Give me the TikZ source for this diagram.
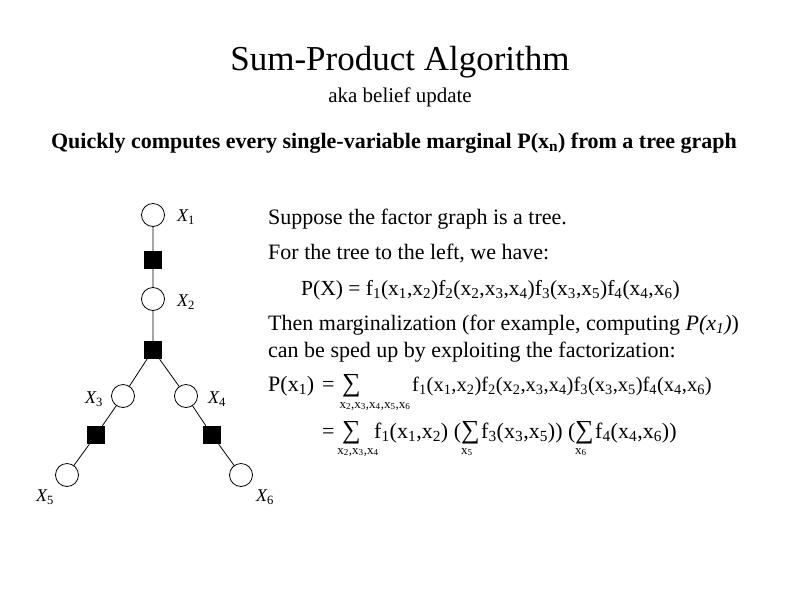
\documentclass[tikz,border=0pt]{standalone}
\usepackage{fontspec}
\setmainfont{Liberation Serif}
\newcommand{\subx}[1]{\textsubscript{#1}}
\begin{document}
\begin{tikzpicture}[x=1pt,y=-1pt,
  var/.style={circle,draw,thick,minimum size=23pt,inner sep=0pt,fill=white},
  fac/.style={rectangle,fill=black,minimum size=18pt,inner sep=0pt},
  lab/.style={font=\fontsize{18}{20}\selectfont\itshape},
  txt/.style={anchor=base west,inner sep=0pt,font=\fontsize{22}{26}\selectfont},
  sig/.style={anchor=base west,inner sep=0pt,font=\fontsize{26}{28}\selectfont},
  sub/.style={anchor=base,inner sep=0pt,font=\fontsize{13}{15}\selectfont}]
\useasboundingbox (0,0) rectangle (800,600);
\node[font=\fontsize{35}{40}\selectfont] (t) at (400,62) {Sum-Product Algorithm};
\node[font=\fontsize{21}{24}\selectfont] (t2) at (400,97) {aka belief update};
\node[font=\fontsize{22}{26}\selectfont\bfseries] (t3) at (394,143) {Quickly computes every single-variable marginal P(x\subx{n}) from a tree graph};
\node[fac] (f1) at (153,260) {};
\node[fac] (f2) at (153,350) {};
\node[fac] (f3) at (96,435) {};
\node[fac] (f4) at (212,435) {};
\draw[thick] (153,215) -- (f1) -- (153,299) -- (f2) -- (123,396) -- (f3) -- (67,475);
\draw[thick] (f2) -- (186,396) -- (f4) -- (241,475);
\node[var] (x1) at (153,215) {};
\node[var] (x2) at (153,299) {};
\node[var] (x3) at (123,396) {};
\node[var] (x4) at (186,396) {};
\node[var] (x5) at (67,475) {};
\node[var] (x6) at (241,475) {};
\node[lab] (l1) at (186,217) {X\subx{\upshape 1}};
\node[lab] (l2) at (186,302) {X\subx{\upshape 2}};
\node[lab] (l3) at (94,399) {X\subx{\upshape 3}};
\node[lab] (l4) at (217,399) {X\subx{\upshape 4}};
\node[lab] (l5) at (45,497) {X\subx{\upshape 5}};
\node[lab] (l6) at (265,497) {X\subx{\upshape 6}};
\node[txt] (a) at (268,224) {Suppose the factor graph is a tree.};
\node[txt] (b) at (268,259) {For the tree to the left, we have:};
\node[txt,font=\fontsize{21.5}{26}\selectfont] (c) at (301,295) {P(X) = f\subx{1}(x\subx{1},x\subx{2})f\subx{2}(x\subx{2},x\subx{3},x\subx{4})f\subx{3}(x\subx{3},x\subx{5})f\subx{4}(x\subx{4},x\subx{6})};
\node[txt] (d) at (268,330) {Then marginalization (for example, computing \textit{P(x\subx{1})})};
\node[txt] (e) at (268,357) {can be sped up by exploiting the factorization:};
\node[txt] (g1) at (268,391) {P(x\subx{1})};
\node[txt] (g2) at (322,391) {=};
\node[sig] (g3) at (342,391) {∑};
\node[sub] (s1) at (375,408) {x\subx{2},x\subx{3},x\subx{4},x\subx{5},x\subx{6}};
\node[txt,font=\fontsize{20.5}{26}\selectfont] (g4) at (412,391) {f\subx{1}(x\subx{1},x\subx{2})f\subx{2}(x\subx{2},x\subx{3},x\subx{4})f\subx{3}(x\subx{3},x\subx{5})f\subx{4}(x\subx{4},x\subx{6})};
\node[txt] (h1) at (322,438) {=};
\node[sig] (h2) at (342,438) {∑};
\node[txt] (h3) at (374,438) {f\subx{1}(x\subx{1},x\subx{2}) (};
\node[sig] (h4) at (461,438) {∑};
\node[txt] (h5) at (481,438) {f\subx{3}(x\subx{3},x\subx{5})) (};
\node[sig] (h6) at (575,438) {∑};
\node[txt] (h7) at (595,438) {f\subx{4}(x\subx{4},x\subx{6}))};
\node[sub] (s2) at (358,454) {x\subx{2},x\subx{3},x\subx{4}};
\node[sub] (s3) at (467,454) {x\subx{5}};
\node[sub] (s4) at (581,454) {x\subx{6}};
\end{tikzpicture}
\end{document}
